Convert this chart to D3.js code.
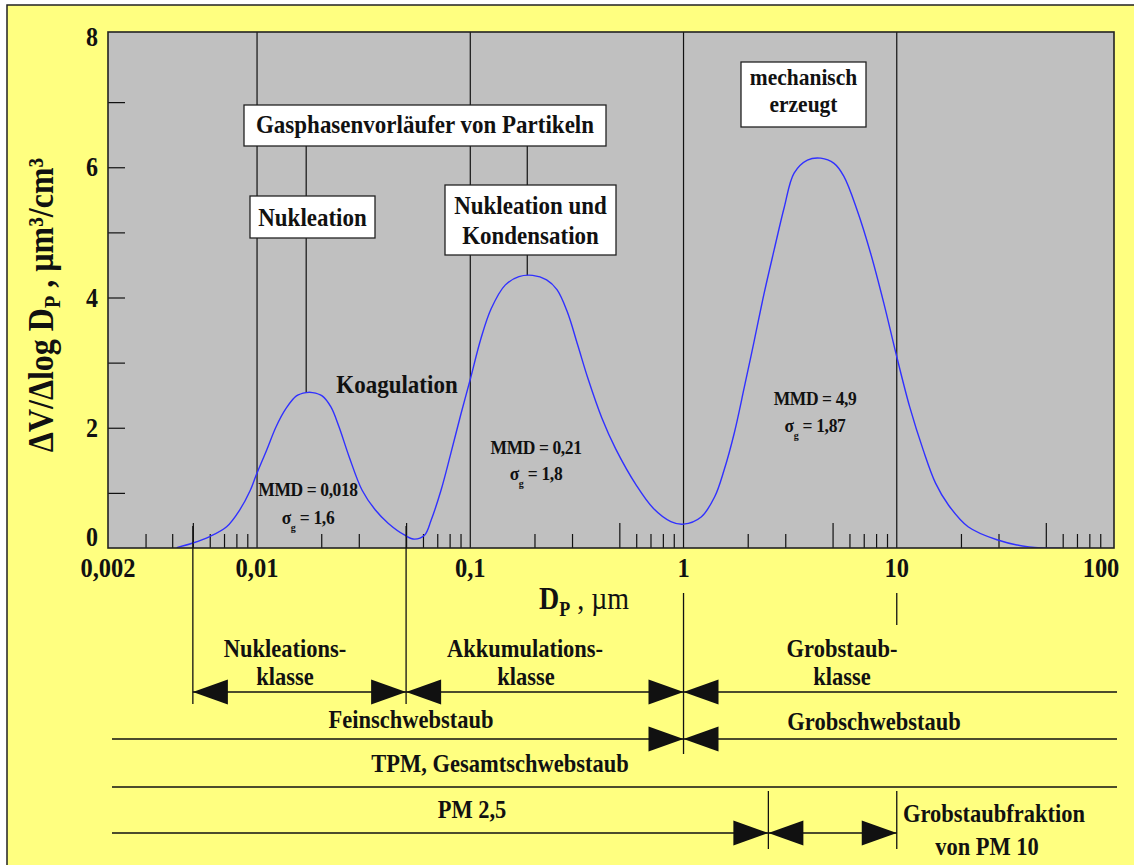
<!DOCTYPE html>
<html>
<head>
<meta charset="utf-8">
<script src="https://cdn.jsdelivr.net/npm/d3@7"></script>
<style>
  html, body { margin: 0; padding: 0; background: #fff; }
  svg { display: block; }
  text { font-family: "Liberation Serif", "Times New Roman", serif; font-weight: bold; fill: #111; }
</style>
</head>
<body>
<svg id="chart" width="1134" height="865"></svg>
<script>
// Volume size distribution of atmospheric aerosol: three log-normal modes
// Particle diameter Dp in µm
const diameters = [0.0042, 0.0050, 0.0060, 0.0072, 0.0083, 0.0093, 0.0099, 0.0111, 0.0123, 0.0137,
  0.0153, 0.0170, 0.0182, 0.0202, 0.0222, 0.0242, 0.0270, 0.0311, 0.0358, 0.0413,
  0.0493, 0.0548, 0.0610, 0.0655, 0.0729, 0.0811, 0.0902, 0.1003, 0.1122, 0.1254,
  0.1457, 0.169, 0.196, 0.228, 0.255, 0.285, 0.319, 0.356, 0.414, 0.480,
  0.600, 0.723, 0.872, 1.00, 1.21, 1.40, 1.55, 1.73, 1.93, 2.15,
  2.39, 2.66, 2.97, 3.30, 3.81, 4.40, 5.08, 5.65, 6.52, 7.54,
  8.70, 10.0, 11.5, 13.3, 15.2, 17.5, 21.6, 29.5, 41.7, 58.8];
// ΔV/Δlog Dp in µm³/cm³
const volumes = [0.16, 0.23, 0.33, 0.48, 0.74, 1.04, 1.27, 1.66, 2.02, 2.30,
  2.49, 2.54, 2.54, 2.49, 2.32, 2.02, 1.56, 1.04, 0.74, 0.53,
  0.35, 0.29, 0.35, 0.58, 1.04, 1.61, 2.20, 2.76, 3.37, 3.83,
  4.19, 4.32, 4.34, 4.27, 4.12, 3.78, 3.27, 2.76, 2.15, 1.68,
  1.12, 0.76, 0.56, 0.52, 0.63, 0.94, 1.35, 1.92, 2.63, 3.35,
  4.07, 4.73, 5.39, 5.91, 6.11, 6.14, 6.06, 5.86, 5.34, 4.68,
  3.91, 3.09, 2.32, 1.66, 1.15, 0.81, 0.48, 0.28, 0.17, 0.15];

// Axis ticks
const xTickValues = [0.002, 0.01, 0.1, 1, 10, 100];
const xTickLabels = ["0,002", "0,01", "0,1", "1", "10", "100"];
const xMinorTicks = [0.003, 0.004, 0.006, 0.007, 0.008, 0.009,
  0.02, 0.03, 0.06, 0.07, 0.08, 0.09,
  0.2, 0.3, 0.6, 0.7, 0.8, 0.9,
  2, 3, 6, 7, 8, 9,
  20, 30, 60, 70, 80, 90];
const xHalfTicks = [0.005, 0.05, 0.5, 5, 50];
const xGridLines = [0.01, 0.1, 1, 10];
const yTickValues = [0, 2, 4, 6, 8];
const yTickLabels = ["0", "2", "4", "6", "8"];
const yMinorTicks = [1, 2, 3, 4, 5, 6, 7];

// Mode parameters (mass median diameter, geometric standard deviation)
const modeMMD = ["0,018", "0,21", "4,9"];
const modeSigma = ["1,6", "1,8", "1,87"];
// Diameters where the process labels connect to the mode peaks
const connectorDiameters = [0.017, 0.185];
const connectorPeaks = [2.54, 4.34];

// Size class boundaries (µm)
const nucleationBounds = [0.005, 0.05];
const accumulationBounds = [0.05, 1];
const fineCoarseBoundary = 1;
const pm25Boundary = 2.5;
const pm10Boundary = 10;

// ---------- layout ----------
const SY = 1.12;            // vertical glyph stretch of the serif lettering
const plot = { left: 108, right: 1114, top: 32, bottom: 548 };
const svg = d3.select("#chart");

const x = d3.scaleLog().domain([0.002, 100]).range([108, 1110]);
const y = d3.scaleLinear().domain([0, 8]).range([558, 37]);

function label(parent, px, py, str, size, opts = {}) {
  const t = parent.append("text")
    .attr("transform", `translate(${px},${py})${opts.rotate ? ` rotate(${opts.rotate})` : ""} scale(1,${opts.sy || SY})`)
    .attr("text-anchor", opts.anchor || "middle")
    .style("font-size", size + "px");
  if (opts.weight) t.style("font-weight", opts.weight);
  if (opts.spacing) t.style("letter-spacing", opts.spacing);
  if (str !== null) t.text(str);
  return t;
}

// Yellow page background
svg.append("rect")
  .attr("x", 7).attr("y", 5).attr("width", 1140).attr("height", 870)
  .attr("fill", "#ffff80").attr("stroke", "#222").attr("stroke-width", 1.5);

// Plot area
svg.append("rect")
  .attr("x", plot.left).attr("y", plot.top)
  .attr("width", plot.right - plot.left).attr("height", plot.bottom - plot.top)
  .attr("fill", "#c0c0c0");

svg.append("clipPath").attr("id", "plotClip")
  .append("rect")
  .attr("x", plot.left).attr("y", plot.top)
  .attr("width", plot.right - plot.left).attr("height", plot.bottom - plot.top);

// Decade lines
svg.append("g").selectAll("line").data(xGridLines).join("line")
  .attr("x1", d => x(d)).attr("x2", d => x(d))
  .attr("y1", plot.top).attr("y2", plot.bottom)
  .attr("stroke", "#111").attr("stroke-width", 1.2);

// Minor x ticks (inside, upward)
const xMinorAxis = d3.axisTop(x).tickValues(xMinorTicks).tickSize(14).tickFormat("");
const gxm = svg.append("g").attr("transform", `translate(0,${plot.bottom})`).call(xMinorAxis);
const xHalfAxis = d3.axisTop(x).tickValues(xHalfTicks).tickSize(25).tickFormat("");
const gxh = svg.append("g").attr("transform", `translate(0,${plot.bottom})`).call(xHalfAxis);
[gxm, gxh].forEach(g => {
  g.select(".domain").remove();
  g.selectAll("line").attr("stroke", "#111").attr("stroke-width", 1.2);
});

// Minor y ticks (inside, to the right)
const yAxis = d3.axisRight(y).tickValues(yMinorTicks).tickSize(17).tickFormat("");
const gy = svg.append("g").attr("transform", `translate(${plot.left},0)`).call(yAxis);
gy.select(".domain").remove();
gy.selectAll("line").attr("stroke", "#111").attr("stroke-width", 1.2);

// Connectors from the process labels down to the mode peaks
svg.append("g").selectAll("line").data(connectorDiameters).join("line")
  .attr("x1", d => x(d)).attr("x2", d => x(d))
  .attr("y1", 146).attr("y2", (d, i) => y(connectorPeaks[i]))
  .attr("stroke", "#111").attr("stroke-width", 1.2);

// Distribution curve
const pts = diameters.map((d, i) => [d, volumes[i]]);
svg.append("path")
  .datum(pts)
  .attr("clip-path", "url(#plotClip)")
  .attr("fill", "none")
  .attr("stroke", "#3030ff")
  .attr("stroke-width", 1.4)
  .attr("d", d3.line().x(d => x(d[0])).y(d => y(d[1])).curve(d3.curveCatmullRom.alpha(0.5)));

// Plot frame
svg.append("rect")
  .attr("x", plot.left).attr("y", plot.top)
  .attr("width", plot.right - plot.left).attr("height", plot.bottom - plot.top)
  .attr("fill", "none").attr("stroke", "#222").attr("stroke-width", 1.6);

// Label boxes
const boxes = [
  { x0: 244, x1: 606, y0: 105, y1: 146, lines: ["Gasphasenvorläufer von Partikeln"], base: [133], size: 23, sy: SY },
  { x0: 250, x1: 375, y0: 196, y1: 238, lines: ["Nukleation"], base: [226], size: 23, sy: SY },
  { x0: 445, x1: 616, y0: 185, y1: 255, lines: ["Nukleation und", "Kondensation"], base: [214, 244], size: 23, sy: SY },
  { x0: 741, x1: 866, y0: 62, y1: 127, lines: ["mechanisch", "erzeugt"], base: [85, 112], size: 21.5, sy: 1.06 }
];
boxes.forEach(b => {
  svg.append("rect")
    .attr("x", b.x0).attr("y", b.y0).attr("width", b.x1 - b.x0).attr("height", b.y1 - b.y0)
    .attr("fill", "#fff").attr("stroke", "#222").attr("stroke-width", 1.3);
  b.lines.forEach((s, i) => label(svg, (b.x0 + b.x1) / 2, b.base[i], s, b.size, { sy: b.sy }));
});

label(svg, 397, 393, "Koagulation", 23);

// Mode annotations
const modePos = [[308, 496, 524], [536, 454, 480], [815, 405, 432]];
modeMMD.forEach((m, i) => {
  const [cx, b1, b2] = modePos[i];
  label(svg, cx, b1, "MMD = " + m, 17.5, { spacing: "-0.4px" });
  const t = label(svg, cx, b2, null, 17.5, { spacing: "-0.3px" });
  t.append("tspan").text("σ");
  t.append("tspan").attr("dy", 6).style("font-size", "10px").text("g");
  t.append("tspan").attr("dy", -6).text(" = " + modeSigma[i]);
});

// Tick labels
xTickValues.forEach((v, i) => {
  label(svg, Math.min(x(v), 1101), 577, xTickLabels[i], 24.5);
});
yTickValues.forEach((v, i) => {
  label(svg, 98, Math.max(44, Math.min(546, y(v) + 9)), yTickLabels[i], 24, { anchor: "end" });
});

// Axis titles
const xt = label(svg, 539, 609, null, 28, { anchor: "start" });
xt.append("tspan").text("D");
xt.append("tspan").attr("dy", 6).style("font-size", "18px").text("P");
xt.append("tspan").attr("dy", -6).style("font-weight", "normal").text(" , µm");

const yt = label(svg, 53, 305, null, 32, { rotate: -90 });
yt.append("tspan").text("ΔV/Δlog D");
yt.append("tspan").attr("dy", 6).style("font-size", "20px").text("P");
yt.append("tspan").attr("dy", -6).text(" ,  µm³/cm³");

// ---------- size class diagram ----------
const dg = svg.append("g");
const ink = "#111";
function hline(x1, x2, yy) {
  dg.append("line").attr("x1", x1).attr("x2", x2).attr("y1", yy).attr("y2", yy)
    .attr("stroke", ink).attr("stroke-width", 1.3);
}
function vline(xx, y1, y2) {
  dg.append("line").attr("x1", xx).attr("x2", xx).attr("y1", y1).attr("y2", y2)
    .attr("stroke", ink).attr("stroke-width", 1.3);
}
function arrow(tipD, yy, dir) {
  const tx = x(tipD), w = 35, h = 12.5;
  dg.append("path")
    .attr("d", `M${tx},${yy}L${tx - dir * w},${yy - h}L${tx - dir * w},${yy + h}Z`)
    .attr("fill", ink);
}

const rows = [692, 739, 787, 833];
const lineStart = 112, lineEnd = 1117;

// boundary verticals
vline(x(nucleationBounds[0]), 526, 704);
vline(x(nucleationBounds[1]), 526, 704);
vline(x(fineCoarseBoundary), 593, 754);
vline(x(pm10Boundary), 593, 625);
vline(x(pm25Boundary), 791, 849);
vline(x(pm10Boundary), 791, 849);

// row 1: Nukleations-, Akkumulations-, Grobstaubklasse
hline(x(nucleationBounds[0]), lineEnd, rows[0]);
arrow(nucleationBounds[0], rows[0], -1);
arrow(nucleationBounds[1], rows[0], 1);
arrow(accumulationBounds[0], rows[0], -1);
arrow(accumulationBounds[1], rows[0], 1);
arrow(fineCoarseBoundary, rows[0], -1);

// row 2: Fein- / Grobschwebstaub
hline(lineStart, lineEnd, rows[1]);
arrow(fineCoarseBoundary, rows[1], 1);
arrow(fineCoarseBoundary, rows[1], -1);

// row 3: TPM
hline(lineStart, lineEnd, rows[2]);

// row 4: PM 2,5 and coarse fraction of PM 10
hline(lineStart, x(pm10Boundary), rows[3]);
arrow(pm25Boundary, rows[3], 1);
arrow(pm25Boundary, rows[3], -1);
arrow(pm10Boundary, rows[3], 1);

const classTexts = [
  ["Nukleations-", 285, 657], ["klasse", 285, 685],
  ["Akkumulations-", 525, 657], ["klasse", 526, 685],
  ["Grobstaub-", 842, 657], ["klasse", 842, 685],
  ["Feinschwebstaub", 411, 728], ["Grobschwebstaub", 874, 730],
  ["TPM, Gesamtschwebstaub", 500, 772],
  ["PM 2,5", 472, 818],
  ["Grobstaubfraktion", 994, 822], ["von PM 10", 987, 855]
];
classTexts.forEach(([s, cx, by]) => label(dg, cx, by, s, 22.5));
</script>
</body>
</html>
